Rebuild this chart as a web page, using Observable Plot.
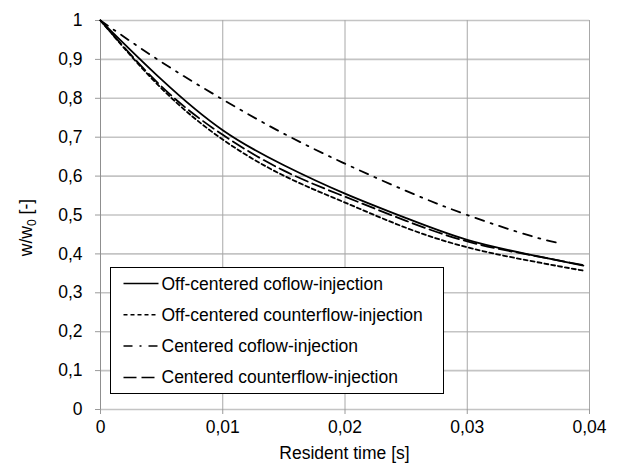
<!DOCTYPE html>
<html>
<head>
<meta charset="utf-8">
<script src="https://cdn.jsdelivr.net/npm/d3@7"></script>
<script src="https://cdn.jsdelivr.net/npm/@observablehq/plot@0.6"></script>
<style>
  body { margin: 0; background: #fff; }
  #chart { width: 625px; height: 469px; overflow: hidden; }
</style>
</head>
<body>
<div id="chart"></div>
<script>
// Resident time [s]
const timeS = [0, 0.005, 0.01, 0.015, 0.02, 0.025, 0.03, 0.035, 0.0395];
const timeCenteredCoflow = [0, 0.005, 0.01, 0.015, 0.02, 0.025, 0.03, 0.035, 0.0376];

// w/w0 for each injection configuration
const offCenteredCoflow    = [1, 0.848, 0.718, 0.628, 0.555, 0.492, 0.436, 0.399, 0.370];
const offCenteredCounter   = [1, 0.825, 0.694, 0.601, 0.532, 0.467, 0.417, 0.383, 0.357];
const centeredCoflow       = [1, 0.893, 0.797, 0.709, 0.632, 0.562, 0.500, 0.448, 0.427];
const centeredCounter      = [1, 0.830, 0.706, 0.614, 0.547, 0.485, 0.432, 0.398, 0.371];

const seriesNames = [
  "Off-centered coflow-injection",
  "Off-centered counterflow-injection",
  "Centered coflow-injection",
  "Centered counterflow-injection"
];

const xTicks = [0, 0.01, 0.02, 0.03, 0.04];
const yTicks = [0, 0.1, 0.2, 0.3, 0.4, 0.5, 0.6, 0.7, 0.8, 0.9, 1];

const xLabel = "Resident time [s]";

// line style per series (same order as seriesNames)
const dashes = [null, "4,3", "9,7,2,7", "13,5"];

const toRows = (ts, vs) => ts.map((t, i) => ({t, v: vs[i]}));
const series = [
  toRows(timeS, offCenteredCoflow),
  toRows(timeS, offCenteredCounter),
  toRows(timeCenteredCoflow, centeredCoflow),
  toRows(timeS, centeredCounter)
];

const comma = d3.formatLocale({decimal: ",", thousands: ".", grouping: [3], currency: ["", ""]}).format("~g");

const W = 625, H = 469;
const mL = 100, mR = 36, mT = 20, mB = 60;
const FS = 17.5;

const lineMarks = series.map((rows, i) =>
  Plot.line(rows, {
    x: "t", y: "v", curve: "natural",
    stroke: "black", strokeWidth: 1.8,
    strokeDasharray: dashes[i] ?? undefined
  })
);

const chart = Plot.plot({
  width: W, height: H,
  marginLeft: mL, marginRight: mR, marginTop: mT, marginBottom: mB,
  style: {fontFamily: "'Liberation Sans', Arial, sans-serif", fontSize: FS + "px", color: "black", background: "white", overflow: "visible"},
  x: {domain: [0, 0.04]},
  y: {domain: [0, 1]},
  marks: [
    Plot.gridY(yTicks, {stroke: "#c4c4c4", strokeOpacity: 1, strokeWidth: 1.6}),
    Plot.gridX(xTicks, {stroke: "#a8a8a8", strokeOpacity: 1, strokeWidth: 1}),
    Plot.ruleX([0], {stroke: "#8f8f8f", strokeWidth: 1}),
    Plot.axisY(yTicks, {tickSize: 5, tickPadding: 13, stroke: "#9a9a9a", fill: "black", tickFormat: comma, label: null, fontSize: FS}),
    Plot.axisX(xTicks, {tickSize: 5, tickPadding: 6, stroke: "#9a9a9a", fill: "black", tickFormat: comma, label: null, fontSize: FS}),
    ...lineMarks
  ]
});

document.getElementById("chart").appendChild(chart);

const svg = d3.select(chart);
const font = "'Liberation Sans', Arial, sans-serif";

// axis titles
svg.append("text")
  .attr("x", mL + (W - mL - mR) / 2)
  .attr("y", H - 10)
  .attr("text-anchor", "middle")
  .attr("font-family", font).attr("font-size", FS).attr("fill", "black")
  .text(xLabel);

const yt = svg.append("text")
  .attr("transform", `translate(32, ${mT + (H - mT - mB) * 0.5 + 13}) rotate(-90)`)
  .attr("text-anchor", "middle")
  .attr("font-family", font).attr("font-size", FS).attr("fill", "black");
yt.append("tspan").text("w/w");
yt.append("tspan").attr("font-size", 12).attr("dy", 4).text("0");
yt.append("tspan").attr("dy", -4).text(" [-]");

// legend box
const lg = svg.append("g").attr("transform", "translate(110.5, 267.5)");
lg.append("rect")
  .attr("width", 333).attr("height", 126)
  .attr("fill", "white").attr("stroke", "black").attr("stroke-width", 1);
seriesNames.forEach((name, i) => {
  const cy = 16 + i * 31.3;
  lg.append("line")
    .attr("x1", 13).attr("x2", 48).attr("y1", cy).attr("y2", cy)
    .attr("stroke", "black").attr("stroke-width", 1.5)
    .attr("stroke-dasharray", dashes[i]);
  lg.append("text")
    .attr("x", 51).attr("y", cy + 6)
    .attr("text-anchor", "start")
    .attr("font-family", font).attr("font-size", FS).attr("fill", "black")
    .text(name);
});
</script>
</body>
</html>
